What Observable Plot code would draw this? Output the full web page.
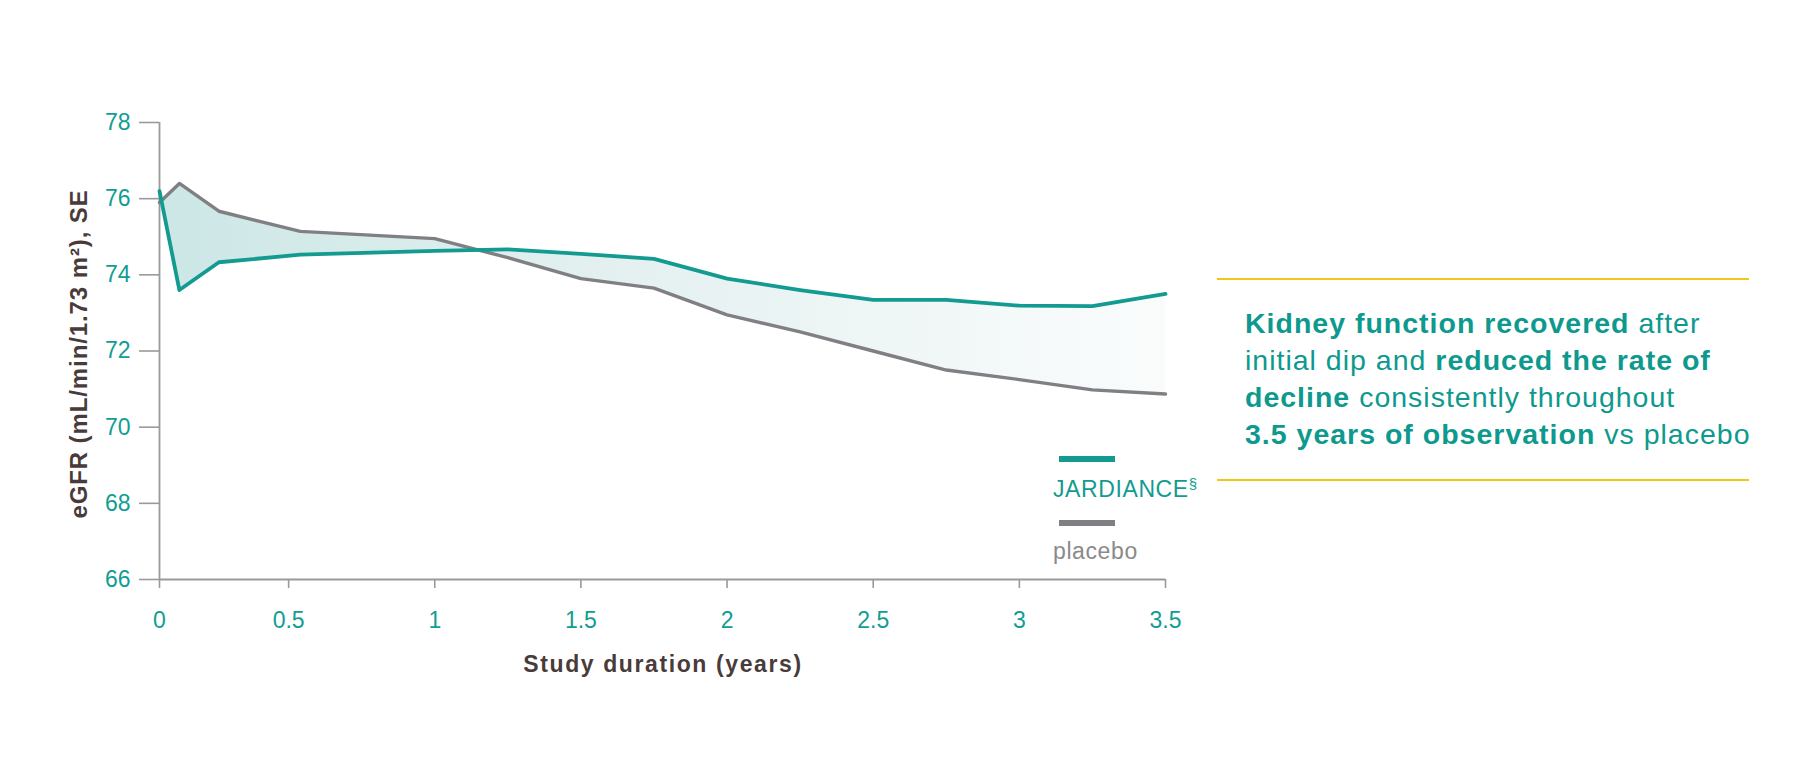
<!DOCTYPE html>
<html><head><meta charset="utf-8">
<script src="https://cdn.jsdelivr.net/npm/d3@7"></script>
<script src="https://cdn.jsdelivr.net/npm/@observablehq/plot@0.6"></script>
<style>
body{margin:0;background:#fff;}
svg{font-family:"Liberation Sans", Arial, Helvetica, sans-serif;}
</style>
</head><body><div id="chart"></div>
<script>
// Data
const years     = [0, 0.077, 0.23, 0.54, 1.0, 1.25, 1.5, 1.75, 2.0, 2.25, 2.5, 2.75, 3.0, 3.25, 3.5];
const jardiance = [76.2, 73.6, 74.33, 74.53, 74.63, 74.67, 74.55, 74.42, 73.9, 73.6, 73.34, 73.34, 73.19, 73.18, 73.5];
const placebo   = [75.9, 76.4, 75.67, 75.14, 74.95, 74.45, 73.9, 73.65, 72.95, 72.5, 72.0, 71.5, 71.25, 70.98, 70.87];
const xTicks = [0, 0.5, 1, 1.5, 2, 2.5, 3, 3.5];
const yTicks = [66, 68, 70, 72, 74, 76, 78];
const seriesNames = ["JARDIANCE", "placebo"];

const TEAL = "#139b91", GREY = "#808084", AXIS = "#9a9a9a", TICKTXT = "#109d93", DARK = "#4a3b3b";

const data = years.map((t, i) => ({t, j: jardiance[i], p: placebo[i]}));

// The reference's time axis is compressed over its first half-year
const K = 129 / 146;
const warp = t => (t <= 0.5 ? t * K : t - 0.5 * (1 - K));
const unwarp = u => (u <= 0.5 * K ? u / K : u + 0.5 * (1 - K));

const plot = Plot.plot({
  width: 1808, height: 775,
  marginLeft: 159, marginRight: 643, marginTop: 122, marginBottom: 196,
  x: {transform: warp, domain: [warp(0), warp(3.5)], range: [159, 1165], nice: false},
  y: {domain: [66, 78], range: [579, 122]},
  style: {fontFamily: '"Liberation Sans", Arial, sans-serif', background: "white", overflow: "visible"},
  marks: [
    Plot.areaY(data, {x: "t", y1: "j", y2: "p", fill: "url(#fillGrad)"}),
    Plot.axisY({ticks: yTicks, tickSize: 20, tickPadding: 9, fontSize: 23, stroke: AXIS, strokeWidth: 1.6, fill: TICKTXT, label: null, tickFormat: d => String(d)}),
    Plot.axisX({ticks: xTicks.map(warp), tickSize: 9, tickPadding: 23, fontSize: 23, stroke: AXIS, strokeWidth: 1.6, fill: TICKTXT, label: null,
      tickFormat: u => String(Math.round(unwarp(u) * 100) / 100)}),
    Plot.ruleX([0], {y1: 66, y2: 78, stroke: AXIS, strokeWidth: 1.8}),
    Plot.ruleY([66], {stroke: AXIS, strokeWidth: 1.8}),
    Plot.line(data, {x: "t", y: "p", stroke: GREY, strokeWidth: 3.4}),
    Plot.line(data, {x: "t", y: "j", stroke: TEAL, strokeWidth: 3.8})
  ]
});

const svg = d3.select(plot);
const defs = svg.insert("defs", ":first-child");
const g = defs.append("linearGradient").attr("id", "fillGrad").attr("x1", 0).attr("x2", 1).attr("y1", 0).attr("y2", 0);
g.append("stop").attr("offset", "0%").attr("stop-color", "#cce7e6");
g.append("stop").attr("offset", "45%").attr("stop-color", "#e4f0f0");
g.append("stop").attr("offset", "100%").attr("stop-color", "#fafcfc");

// Axis titles
svg.append("text")
  .attr("transform", "translate(87,354) rotate(-90)")
  .attr("text-anchor", "middle").attr("font-weight", "bold").attr("font-size", 24)
  .attr("letter-spacing", 0.9).attr("fill", DARK)
  .text("eGFR (mL/min/1.73 m²), SE");
svg.append("text")
  .attr("x", 663).attr("y", 672)
  .attr("text-anchor", "middle").attr("font-weight", "bold").attr("font-size", 23)
  .attr("letter-spacing", 1.6).attr("fill", DARK)
  .text("Study duration (years)");

// Legend
const leg = svg.append("g").attr("text-anchor", "start");
leg.append("line").attr("x1", 1059).attr("x2", 1115).attr("y1", 459).attr("y2", 459).attr("stroke", TEAL).attr("stroke-width", 6);
const t1 = leg.append("text").attr("x", 1053).attr("y", 497).attr("font-size", 23).attr("letter-spacing", 0.6).attr("fill", TEAL);
t1.append("tspan").text(seriesNames[0]);
t1.append("tspan").attr("font-size", 15).attr("dy", -8).text("§");
leg.append("line").attr("x1", 1059).attr("x2", 1115).attr("y1", 523).attr("y2", 523).attr("stroke", GREY).attr("stroke-width", 6);
leg.append("text").attr("x", 1053).attr("y", 559).attr("font-size", 23).attr("letter-spacing", 0.6).attr("fill", "#8a8a8a").text(seriesNames[1]);

// Callout
const YEL = "#f5c518";
const call = svg.append("g").attr("text-anchor", "start");
call.append("line").attr("x1", 1217).attr("x2", 1749).attr("y1", 279).attr("y2", 279).attr("stroke", YEL).attr("stroke-width", 2);
call.append("line").attr("x1", 1217).attr("x2", 1749).attr("y1", 480).attr("y2", 480).attr("stroke", YEL).attr("stroke-width", 2);
const lines = [
  [["Kidney function recovered", true], [" after", false]],
  [["initial dip and ", false], ["reduced the rate of", true]],
  [["decline", true], [" consistently throughout", false]],
  [["3.5 years of observation", true], [" vs placebo", false]]
];
lines.forEach((parts, i) => {
  const tx = call.append("text").attr("x", 1245).attr("y", 333 + i * 37)
    .attr("font-size", 28.5).attr("letter-spacing", 1.0).attr("fill", "#0e998e");
  parts.forEach(([s, b]) => tx.append("tspan").attr("font-weight", b ? "bold" : "normal").text(s));
});

document.getElementById("chart").appendChild(plot);
</script>
</body></html>
